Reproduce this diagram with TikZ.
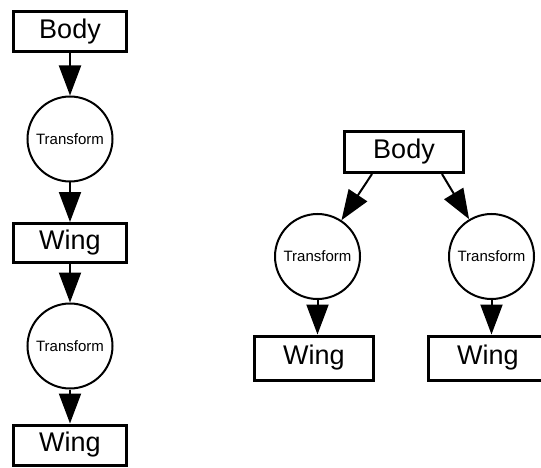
\documentclass[tikz,border=0pt]{standalone}
\usepackage{fontspec}
\setmainfont{Liberation Sans}
\usetikzlibrary{arrows.meta}
\tikzset{
  boxnode/.style={draw, line width=3pt, inner sep=0pt, font=\fontsize{27}{30}\selectfont},
  trnode/.style={draw, circle, line width=2pt, inner sep=0pt, minimum size=85pt, font=\fontsize{15}{17}\selectfont},
  arr/.style={line width=2pt, -{Triangle[width=22pt,length=30pt]}}
}
\begin{document}
\begin{tikzpicture}[x=1pt,y=-1pt]
\useasboundingbox (0,0) rectangle (541,468);
% left column
\node[boxnode, minimum width=113pt, minimum height=40pt] (b1) at (70,31.5) {Body};
\node[trnode] (t1) at (70,139) {Transform};
\node[boxnode, minimum width=113pt, minimum height=39pt] (w1) at (70,243) {Wing};
\node[trnode] (t2) at (70,346) {Transform};
\node[boxnode, minimum width=113pt, minimum height=40pt] (w2) at (70,445) {Wing};
\draw[arr] (b1) -- (t1);
\draw[arr] (t1) -- (w1);
\draw[arr] (w1) -- (t2);
\draw[arr] (t2) -- (w2);
% right tree
\node[boxnode, minimum width=119pt, minimum height=41pt] (b2) at (404,152) {Body};
\node[trnode] (t3) at (317.5,256.5) {Transform};
\node[trnode] (t4) at (491.5,256.5) {Transform};
\node[boxnode, minimum width=119pt, minimum height=44pt] (w3) at (314,358) {Wing};
\node[boxnode, minimum width=119pt, minimum height=44pt] (w4) at (488,358) {Wing};
\draw[arr] ([xshift=-32pt]b2.south) -- (t3);
\draw[arr] ([xshift=38pt]b2.south) -- (t4);
\draw[arr] (t3.south) -- (t3.south |- w3.north);
\draw[arr] (t4.south) -- (t4.south |- w4.north);
\end{tikzpicture}
\end{document}
